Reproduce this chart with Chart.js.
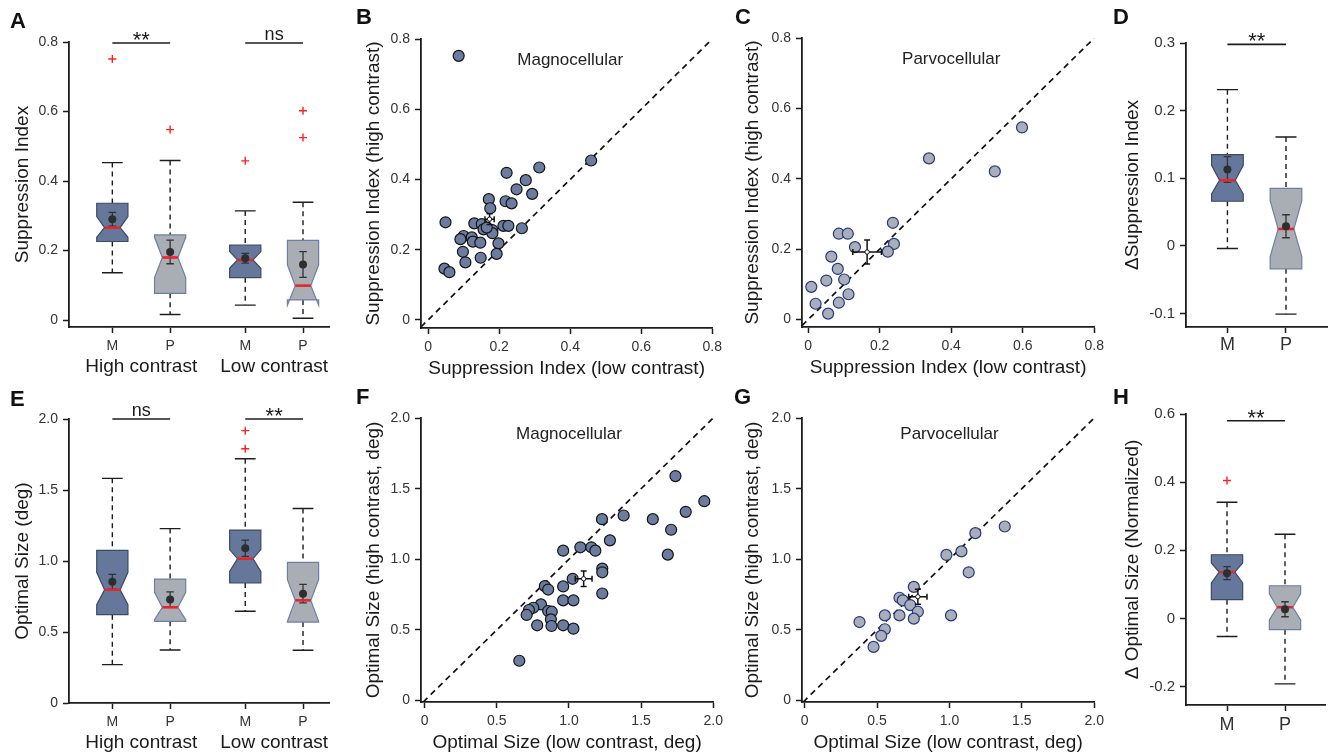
<!DOCTYPE html>
<html>
<head>
<meta charset="utf-8">
<script src="https://cdn.jsdelivr.net/npm/chart.js@4.4.1/dist/chart.umd.min.js"></script>
<style>
  body { margin: 0; background: #fff; width: 1331px; height: 754px; overflow: hidden; position: relative;
         font-family: "Liberation Sans", Arial, sans-serif; }
  canvas { position: absolute; }
  .lbl { position: absolute; font-weight: bold; font-size: 22px; line-height: 1; color: #111; z-index: 2; }
</style>
</head>
<body>
<div class="lbl" style="left:10px;top:10px">A</div>
<div class="lbl" style="left:356px;top:6px">B</div>
<div class="lbl" style="left:735px;top:6px">C</div>
<div class="lbl" style="left:1113px;top:6px">D</div>
<div class="lbl" style="left:10px;top:388px">E</div>
<div class="lbl" style="left:356px;top:386px">F</div>
<div class="lbl" style="left:734px;top:386px">G</div>
<div class="lbl" style="left:1113px;top:386px">H</div>

<canvas id="pA"></canvas><canvas id="pB"></canvas><canvas id="pC"></canvas><canvas id="pD"></canvas>
<canvas id="pE"></canvas><canvas id="pF"></canvas><canvas id="pG"></canvas><canvas id="pH"></canvas>

<script>
// ---- data ----
const cellTypes = ["M", "P", "M", "P"];
const contrastGroups = ["High contrast", "Low contrast"];
const boxPos4 = [1, 2, 3.3, 4.3];
const boxPos2 = [1, 2];

const siTicks = [0, 0.2, 0.4, 0.6, 0.8];
const siTickLabels = ["0", "0.2", "0.4", "0.6", "0.8"];
const sizeTicks = [0, 0.5, 1.0, 1.5, 2.0];
const sizeTickLabels = ["0", "0.5", "1.0", "1.5", "2.0"];
const dSiTicks = [-0.1, 0, 0.1, 0.2, 0.3];
const dSiTickLabels = ["-0.1", "0", "0.1", "0.2", "0.3"];
const dSizeTicks = [-0.2, 0, 0.2, 0.4, 0.6];
const dSizeTickLabels = ["-0.2", "0", "0.2", "0.4", "0.6"];

// A: suppression index (M high, P high, M low, P low)
const siWhiskLo = [0.136, 0.016, 0.043, 0.005];
const siQ1 = [0.226, 0.077, 0.122, 0.058];
const siNotchLo = [0.238, 0.122, 0.149, 0.043];
const siMedian = [0.266, 0.180, 0.173, 0.099];
const siNotchHi = [0.298, 0.238, 0.197, 0.159];
const siQ3 = [0.336, 0.245, 0.216, 0.229];
const siWhiskHi = [0.453, 0.459, 0.314, 0.339];
const siMean = [0.290, 0.196, 0.178, 0.160];
const siSem = [0.020, 0.034, 0.014, 0.037];
const siOutliers = [[0.751], [0.548], [0.458], [0.602, 0.525]];
const siSig = ["**", "ns"];

// E: optimal size
const sizeWhiskLo = [0.27, 0.373, 0.646, 0.371];
const sizeQ1 = [0.622, 0.575, 0.845, 0.570];
const sizeNotchLo = [0.692, 0.587, 0.927, 0.575];
const sizeMedian = [0.798, 0.674, 1.016, 0.723];
const sizeNotchHi = [0.92, 0.78, 1.08, 0.869];
const sizeQ3 = [1.075, 0.873, 1.218, 0.99];
const sizeWhiskHi = [1.582, 1.228, 1.72, 1.37];
const sizeMean = [0.854, 0.728, 1.09, 0.77];
const sizeSem = [0.052, 0.055, 0.057, 0.065];
const sizeOutliers = [[], [], [1.918, 1.791], []];
const sizeSig = ["ns", "**"];

// D: delta suppression index (M, P)
const dSiWhiskLo = [-0.004, -0.101];
const dSiQ1 = [0.066, -0.034];
const dSiNotchLo = [0.077, -0.016];
const dSiMedian = [0.097, 0.025];
const dSiNotchHi = [0.119, 0.067];
const dSiQ3 = [0.135, 0.085];
const dSiWhiskHi = [0.231, 0.161];
const dSiMean = [0.113, 0.029];
const dSiSem = [0.019, 0.017];
const dSiOutliers = [[], []];

// H: delta optimal size (normalized)
const dSizeWhiskLo = [-0.053, -0.192];
const dSizeQ1 = [0.055, -0.033];
const dSizeNotchLo = [0.104, -0.004];
const dSizeMedian = [0.136, 0.033];
const dSizeNotchHi = [0.163, 0.072];
const dSizeQ3 = [0.187, 0.096];
const dSizeWhiskHi = [0.341, 0.247];
const dSizeMean = [0.133, 0.027];
const dSizeSem = [0.019, 0.022];
const dSizeOutliers = [[0.405], []];

// B: magnocellular suppression index, low vs high contrast
const magSiLow = [0.086, 0.459, 0.313, 0.275, 0.221, 0.249, 0.293, 0.171, 0.218, 0.235, 0.175, 0.049, 0.130,
  0.151, 0.156, 0.181, 0.212, 0.226, 0.264, 0.181, 0.100, 0.091, 0.123, 0.126, 0.147, 0.198, 0.098, 0.193,
  0.148, 0.105, 0.046, 0.060, 0.165];
const magSiHigh = [0.752, 0.454, 0.434, 0.398, 0.419, 0.372, 0.359, 0.344, 0.338, 0.332, 0.318, 0.278, 0.275,
  0.273, 0.258, 0.256, 0.268, 0.268, 0.261, 0.247, 0.239, 0.230, 0.235, 0.223, 0.220, 0.218, 0.194, 0.188,
  0.177, 0.164, 0.146, 0.136, 0.263];
const magSiMean = [0.173, 0.287];
const magSiErr = [0.013, 0.015];

// C: parvocellular suppression index
const parvoSiLow = [0.598, 0.522, 0.338, 0.237, 0.240, 0.223, 0.086, 0.111, 0.131, 0.065, 0.083, 0.051, 0.101,
  0.009, 0.113, 0.086, 0.021, 0.056];
const parvoSiHigh = [0.546, 0.421, 0.458, 0.275, 0.215, 0.193, 0.244, 0.244, 0.206, 0.179, 0.144, 0.111, 0.114,
  0.093, 0.072, 0.048, 0.045, 0.017];
const parvoSiMean = [0.165, 0.192];
const parvoSiErr = [0.040, 0.034];

// F: magnocellular optimal size
const magSizeLow = [1.738, 1.938, 1.809, 1.581, 1.708, 1.685, 1.379, 1.229, 1.284, 1.079, 1.155, 1.183, 0.960,
  1.231, 1.231, 1.231, 1.026, 0.960, 0.833, 0.856, 0.960, 1.031, 0.806, 0.753, 0.723, 0.707, 0.856, 0.881,
  0.875, 0.780, 0.879, 0.960, 1.031, 0.656];
const magSizeHigh = [1.589, 1.411, 1.336, 1.284, 1.209, 1.033, 1.310, 1.284, 1.134, 1.085, 1.085, 1.061, 1.061,
  0.934, 0.908, 0.758, 0.862, 0.808, 0.810, 0.786, 0.709, 0.709, 0.681, 0.657, 0.641, 0.606, 0.634, 0.629,
  0.575, 0.533, 0.528, 0.533, 0.509, 0.282];
const magSizeMean = [1.102, 0.862];
const magSizeErr = [0.058, 0.055];

// G: parvocellular optimal size
const parvoSizeLow = [1.382, 1.179, 0.979, 1.083, 1.133, 1.011, 0.754, 0.655, 0.678, 0.729, 0.782, 0.754, 0.655,
  0.554, 0.379, 0.554, 0.529, 0.476];
const parvoSizeHigh = [1.232, 1.185, 1.031, 1.056, 0.908, 0.603, 0.805, 0.728, 0.709, 0.676, 0.629, 0.580, 0.603,
  0.603, 0.556, 0.505, 0.458, 0.380];
const parvoSizeMean = [0.782, 0.735];
const parvoSizeErr = [0.063, 0.053];

// ---- styles ----
Chart.defaults.font.family = '"Liberation Sans", Arial, sans-serif';
const INK = "#1c1c1c";
const boxFill = { M: "#65789b", P: "#a9adb4" };
const boxEdge = { M: "#3d4a66", P: "#6e7fa6" };
const dotFill = { M: "#6a7ca0", P: "#aaaeb6" };
const dotEdge = { M: "#141414", P: "#23388a" };
const BOX_HALF = 0.27, CAP_HALF = 0.18, SEM_HALF = 0.065;

function yAxis(min, max, values, labels, title, width, o = {}) {
  return {
    type: "linear", position: "left", min, max,
    afterBuildTicks: s => { s.ticks = values.map(v => ({ value: v })); },
    afterFit: s => { s.width = width; },
    ticks: { callback: (v, i) => labels[i], color: "#333", font: { size: o.font || 14 }, padding: o.pad || 5 },
    grid: { drawOnChartArea: false, tickLength: 6, tickColor: INK, tickWidth: 1.5 },
    border: { color: INK, width: 1.8 },
    title: { display: true, text: title, color: "#1a1a1a", font: { size: 19 }, padding: { top: 3, bottom: 0 } }
  };
}

function xAxis(min, max, values, labels, title, height, o = {}) {
  return {
    type: "linear", position: "bottom", min, max,
    afterBuildTicks: s => { s.ticks = values.map(v => ({ value: v })); },
    afterFit: s => { s.height = height; },
    ticks: { callback: (v, i) => labels[i], color: "#333", font: { size: o.font || 14 }, padding: o.pad || 5,
             maxRotation: 0, autoSkip: false },
    grid: { drawOnChartArea: false, tickLength: 6, tickColor: INK, tickWidth: 1.5 },
    border: { color: INK, width: 1.8 },
    title: { display: !!title, text: title || "", color: "#1a1a1a", font: { size: 19 }, padding: { top: 0, bottom: 0 } }
  };
}

function drawBoxes(chart, b) {
  const { ctx, scales: { x, y } } = chart;
  const py = v => y.getPixelForValue(v);
  ctx.save();
  b.pos.forEach((p, i) => {
    const xc = x.getPixelForValue(p);
    const hw = x.getPixelForValue(p + BOX_HALF) - xc;
    const cw = x.getPixelForValue(p + CAP_HALF) - xc;
    const kind = b.types[i];
    // whiskers
    ctx.strokeStyle = INK; ctx.lineWidth = 1.4; ctx.setLineDash([5, 4]);
    ctx.beginPath();
    ctx.moveTo(xc, py(b.whiskHi[i])); ctx.lineTo(xc, py(b.q3[i]));
    ctx.moveTo(xc, py(b.q1[i])); ctx.lineTo(xc, py(b.whiskLo[i]));
    ctx.stroke();
    ctx.setLineDash([]);
    ctx.beginPath();
    ctx.moveTo(xc - cw, py(b.whiskHi[i])); ctx.lineTo(xc + cw, py(b.whiskHi[i]));
    ctx.moveTo(xc - cw, py(b.whiskLo[i])); ctx.lineTo(xc + cw, py(b.whiskLo[i]));
    ctx.stroke();
    // notched box
    const q1 = py(b.q1[i]), q3 = py(b.q3[i]), nl = py(b.notchLo[i]), nh = py(b.notchHi[i]), md = py(b.median[i]);
    ctx.beginPath();
    ctx.moveTo(xc - hw, q3); ctx.lineTo(xc + hw, q3); ctx.lineTo(xc + hw, nh); ctx.lineTo(xc + hw / 2, md);
    ctx.lineTo(xc + hw, nl); ctx.lineTo(xc + hw, q1); ctx.lineTo(xc - hw, q1); ctx.lineTo(xc - hw, nl);
    ctx.lineTo(xc - hw / 2, md); ctx.lineTo(xc - hw, nh); ctx.closePath();
    ctx.fillStyle = boxFill[kind]; ctx.fill();
    ctx.strokeStyle = boxEdge[kind]; ctx.lineWidth = 1.2; ctx.stroke();
    // sem bar
    const sw = x.getPixelForValue(p + SEM_HALF) - xc;
    const sTop = py(b.mean[i] + b.sem[i]), sBot = py(b.mean[i] - b.sem[i]);
    ctx.strokeStyle = "#333"; ctx.lineWidth = 1.3;
    ctx.beginPath();
    ctx.moveTo(xc, sTop); ctx.lineTo(xc, sBot);
    ctx.moveTo(xc - sw, sTop); ctx.lineTo(xc + sw, sTop);
    ctx.moveTo(xc - sw, sBot); ctx.lineTo(xc + sw, sBot);
    ctx.stroke();
    // median
    ctx.strokeStyle = "#e8262a"; ctx.lineWidth = 2.6;
    ctx.beginPath(); ctx.moveTo(xc - hw / 2, md); ctx.lineTo(xc + hw / 2, md); ctx.stroke();
  });
  ctx.restore();
}

function drawSig(chart, s, pos) {
  const { ctx, scales: { x, y } } = chart;
  const yy = y.getPixelForValue(s.level);
  ctx.save();
  s.labels.forEach((lab, k) => {
    const x1 = x.getPixelForValue(pos[2 * k]), x2 = x.getPixelForValue(pos[2 * k + 1]);
    ctx.strokeStyle = INK; ctx.lineWidth = 1.6;
    ctx.beginPath(); ctx.moveTo(x1, yy); ctx.lineTo(x2, yy); ctx.stroke();
    ctx.fillStyle = "#1a1a1a"; ctx.textAlign = "center"; ctx.textBaseline = "middle";
    if (lab === "**") { ctx.font = '22px "Liberation Sans", Arial'; ctx.fillText(lab, (x1 + x2) / 2, yy - 2); }
    else { ctx.font = '18px "Liberation Sans", Arial'; ctx.fillText(lab, (x1 + x2) / 2, yy - 8); }
  });
  ctx.restore();
}

function drawGroups(chart, pos) {
  const { ctx, chartArea, scales: { x } } = chart;
  ctx.save();
  ctx.fillStyle = "#1a1a1a"; ctx.font = '19px "Liberation Sans", Arial';
  ctx.textAlign = "center"; ctx.textBaseline = "alphabetic";
  contrastGroups.forEach((g, k) => {
    const xm = (x.getPixelForValue(pos[2 * k]) + x.getPixelForValue(pos[2 * k + 1])) / 2;
    ctx.fillText(g, xm, chartArea.bottom + 45);
  });
  ctx.restore();
}

function drawCross(chart, c) {
  const { ctx, scales: { x, y } } = chart;
  const mx = x.getPixelForValue(c.mean[0]), my = y.getPixelForValue(c.mean[1]);
  const x1 = x.getPixelForValue(c.mean[0] - c.err[0]), x2 = x.getPixelForValue(c.mean[0] + c.err[0]);
  const y1 = y.getPixelForValue(c.mean[1] - c.err[1]), y2 = y.getPixelForValue(c.mean[1] + c.err[1]);
  ctx.save();
  ctx.strokeStyle = "#111"; ctx.lineWidth = 1.5;
  ctx.beginPath();
  ctx.moveTo(x1, my); ctx.lineTo(x2, my); ctx.moveTo(mx, y1); ctx.lineTo(mx, y2);
  ctx.moveTo(x1, my - 3); ctx.lineTo(x1, my + 3); ctx.moveTo(x2, my - 3); ctx.lineTo(x2, my + 3);
  ctx.moveTo(mx - 3, y1); ctx.lineTo(mx + 3, y1); ctx.moveTo(mx - 3, y2); ctx.lineTo(mx + 3, y2);
  ctx.stroke();
  ctx.fillStyle = "#fff"; ctx.lineWidth = 1;
  ctx.beginPath(); ctx.arc(mx, my, 2.2, 0, Math.PI * 2); ctx.fill(); ctx.stroke();
  ctx.restore();
}

function drawSubtitle(chart, t) {
  const { ctx, scales: { x, y } } = chart;
  ctx.save();
  ctx.fillStyle = "#222"; ctx.font = '17px "Liberation Sans", Arial';
  ctx.textAlign = "center"; ctx.textBaseline = "middle";
  ctx.fillText(t.text, x.getPixelForValue(t.at[0]), y.getPixelForValue(t.at[1]));
  ctx.restore();
}

function extras(spec) {
  return {
    id: "extras",
    beforeDatasetsDraw(chart) { if (spec.boxes) drawBoxes(chart, spec.boxes); },
    afterDatasetsDraw(chart) { if (spec.cross) drawCross(chart, spec.cross); },
    afterDraw(chart) {
      if (spec.sig) drawSig(chart, spec.sig, spec.boxes.pos);
      if (spec.groups) drawGroups(chart, spec.boxes.pos);
      if (spec.subtitle) drawSubtitle(chart, spec.subtitle);
    }
  };
}

function place(id, x0, y0, w, h) {
  const c = document.getElementById(id);
  c.width = w; c.height = h;
  c.style.left = x0 + "px"; c.style.top = y0 + "px";
  c.style.width = w + "px"; c.style.height = h + "px";
  return c;
}

const baseOptions = (scales, padTop, padRight) => ({
  responsive: false, animation: false, events: [],
  layout: { padding: { top: padTop, right: padRight, left: 0, bottom: 0 } },
  plugins: { legend: { display: false }, tooltip: { enabled: false } },
  scales
});

function boxPanel(id, g, d) {
  const c = place(id, g.x0, g.y0, g.w, g.h);
  const types = d.pos.map((p, i) => cellTypes[i]);
  const outl = d.outliers.flatMap((arr, i) => arr.map(v => ({ x: d.pos[i], y: v })));
  return new Chart(c, {
    type: "scatter",
    data: {
      datasets: [
        { data: d.pos.map((p, i) => ({ x: p, y: d.mean[i] })), pointRadius: 4, pointBackgroundColor: "#2e2e2e",
          pointBorderWidth: 0 },
        { data: outl, pointStyle: "cross", pointRadius: 4, borderColor: "#ff2020", pointBorderWidth: 1.4 }
      ]
    },
    options: baseOptions({
      x: xAxis(g.xMin, g.xMax, d.pos, types, null, g.xh, { font: g.xFont, pad: g.xPad }),
      y: yAxis(g.yMin, g.yMax, g.yTicks, g.yLabels, g.title, g.yw, { font: g.yFont })
    }, g.padTop, g.padRight),
    plugins: [extras({ boxes: Object.assign({ types }, d), sig: d.sig, groups: g.groups })]
  });
}

function scatterPanel(id, g, d) {
  const c = place(id, g.x0, g.y0, g.w, g.h);
  return new Chart(c, {
    type: "scatter",
    data: {
      datasets: [
        { data: d.xs.map((v, i) => ({ x: v, y: d.ys[i] })), pointRadius: 5.5,
          pointBackgroundColor: dotFill[d.kind], pointBorderColor: dotEdge[d.kind], pointBorderWidth: 1.2,
          order: 0, clip: false },
        { type: "line", data: d.unity.map(v => ({ x: v, y: v })), borderColor: "#111", borderWidth: 1.7,
          borderDash: [6, 4.5], pointRadius: 0, order: 1 }
      ]
    },
    options: baseOptions({
      x: xAxis(g.xMin, g.max, g.ticks, g.labels, g.xTitle, 52),
      y: yAxis(g.yMin, g.max, g.ticks, g.labels, g.yTitle, g.yw)
    }, g.padTop, 14),
    plugins: [extras({ cross: d.cross, subtitle: d.subtitle })]
  });
}

// ---- panels ----
boxPanel("pA",
  { x0: 8, y0: 0, w: 327, h: 379, yw: 61, xh: 52, padTop: 42, padRight: 3, xMin: 0.25, xMax: 4.76,
    yMin: -0.02, yMax: 0.8, yTicks: siTicks, yLabels: siTickLabels, title: "Suppression Index", groups: true },
  { pos: boxPos4, whiskLo: siWhiskLo, q1: siQ1, notchLo: siNotchLo, median: siMedian, notchHi: siNotchHi,
    q3: siQ3, whiskHi: siWhiskHi, mean: siMean, sem: siSem, outliers: siOutliers,
    sig: { level: 0.797, labels: siSig } });

boxPanel("pE",
  { x0: 8, y0: 372, w: 327, h: 383, yw: 61, xh: 52, padTop: 47, padRight: 3, xMin: 0.25, xMax: 4.76,
    yMin: 0, yMax: 2.0, yTicks: sizeTicks, yLabels: sizeTickLabels, title: "Optimal Size (deg)", groups: true },
  { pos: boxPos4, whiskLo: sizeWhiskLo, q1: sizeQ1, notchLo: sizeNotchLo, median: sizeMedian,
    notchHi: sizeNotchHi, q3: sizeQ3, whiskHi: sizeWhiskHi, mean: sizeMean, sem: sizeSem,
    outliers: sizeOutliers, sig: { level: 2.0, labels: sizeSig } });

boxPanel("pD",
  { x0: 1118, y0: 0, w: 213, h: 372, yw: 68, xh: 45, padTop: 43, padRight: 3, xMin: 0.293, xMax: 2.7,
    yMin: -0.12, yMax: 0.3, yTicks: dSiTicks, yLabels: dSiTickLabels, title: "\u0394Suppression Index",
    xFont: 18, xPad: 1, yFont: 15 },
  { pos: boxPos2, whiskLo: dSiWhiskLo, q1: dSiQ1, notchLo: dSiNotchLo, median: dSiMedian, notchHi: dSiNotchHi,
    q3: dSiQ3, whiskHi: dSiWhiskHi, mean: dSiMean, sem: dSiSem, outliers: dSiOutliers,
    sig: { level: 0.298, labels: ["**"] } });

boxPanel("pH",
  { x0: 1118, y0: 372, w: 213, h: 378, yw: 68, xh: 45, padTop: 42, padRight: 3, xMin: 0.293, xMax: 2.7,
    yMin: -0.254, yMax: 0.6, yTicks: dSizeTicks, yLabels: dSizeTickLabels,
    title: "\u0394 Optimal Size (Normalized)", xFont: 18, xPad: 3, yFont: 15 },
  { pos: boxPos2, whiskLo: dSizeWhiskLo, q1: dSizeQ1, notchLo: dSizeNotchLo, median: dSizeMedian,
    notchHi: dSizeNotchHi, q3: dSizeQ3, whiskHi: dSizeWhiskHi, mean: dSizeMean, sem: dSizeSem,
    outliers: dSizeOutliers, sig: { level: 0.58, labels: ["**"] } });

scatterPanel("pB",
  { x0: 359, y0: 0, w: 368, h: 380, yw: 62, padTop: 39, xMin: -0.02, yMin: -0.023, max: 0.8,
    ticks: siTicks, labels: siTickLabels,
    xTitle: "Suppression Index (low contrast)", yTitle: "Suppression Index (high contrast)" },
  { kind: "M", xs: magSiLow, ys: magSiHigh, unity: [-0.02, 0.8],
    cross: { mean: magSiMean, err: magSiErr }, subtitle: { text: "Magnocellular", at: [0.4, 0.74] } });

scatterPanel("pC",
  { x0: 738, y0: 0, w: 371, h: 379, yw: 64, padTop: 38, xMin: -0.017, yMin: -0.021, max: 0.8,
    ticks: siTicks, labels: siTickLabels,
    xTitle: "Suppression Index (low contrast)", yTitle: "Suppression Index (high contrast)" },
  { kind: "P", xs: parvoSiLow, ys: parvoSiHigh, unity: [-0.017, 0.8],
    cross: { mean: parvoSiMean, err: parvoSiErr }, subtitle: { text: "Parvocellular", at: [0.4, 0.74] } });

scatterPanel("pF",
  { x0: 359, y0: 372, w: 369, h: 382, yw: 62, padTop: 46, xMin: -0.025, yMin: -0.01, max: 2.0,
    ticks: sizeTicks, labels: sizeTickLabels,
    xTitle: "Optimal Size (low contrast, deg)", yTitle: "Optimal Size (high contrast, deg)" },
  { kind: "M", xs: magSizeLow, ys: magSizeHigh, unity: [-0.01, 2.0],
    cross: { mean: magSizeMean, err: magSizeErr }, subtitle: { text: "Magnocellular", at: [1.0, 1.885] } });

scatterPanel("pG",
  { x0: 738, y0: 372, w: 371, h: 382, yw: 64, padTop: 46, xMin: -0.018, yMin: -0.01, max: 2.0,
    ticks: sizeTicks, labels: sizeTickLabels,
    xTitle: "Optimal Size (low contrast, deg)", yTitle: "Optimal Size (high contrast, deg)" },
  { kind: "P", xs: parvoSizeLow, ys: parvoSizeHigh, unity: [-0.01, 2.0],
    cross: { mean: parvoSizeMean, err: parvoSizeErr }, subtitle: { text: "Parvocellular", at: [1.0, 1.885] } });
</script>
</body>
</html>
